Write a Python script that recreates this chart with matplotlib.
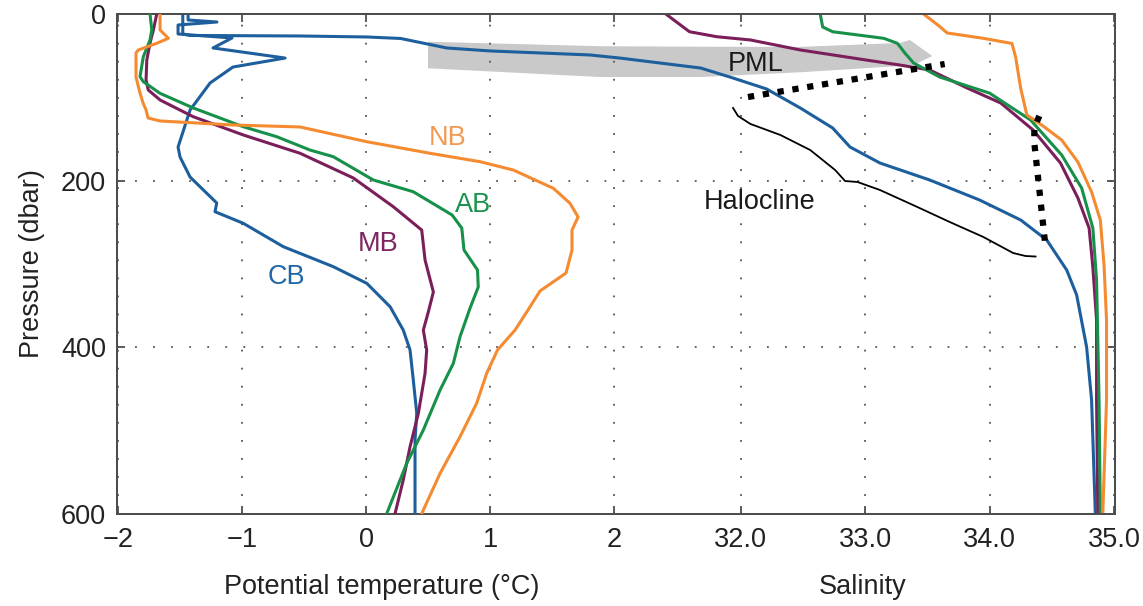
import numpy as np
import matplotlib

matplotlib.use("Agg")
import matplotlib.pyplot as plt
from matplotlib.ticker import FormatStrFormatter

plt.rcParams["font.family"] = ["Liberation Sans", "DejaVu Sans"]

# ------------------------------------------------------------
# potential temperature profiles (degC) vs pressure (dbar)
# ------------------------------------------------------------
cb_temp_p = [0, 7.2, 9.6, 13.2, 24.0, 28.8, 40.8, 52.9, 63.7, 82.9, 115.3, 159.8, 171.8,
             195.8, 227.0, 237.5, 251.4, 279.5, 303.5, 323.5, 351.6, 379.6, 403.6, 439.6,
             479.6, 511.7, 559.8, 600]
cb_temp = [-1.435, -1.435, -1.202, -1.516, -1.516, -1.081, -1.234, -0.653, -1.073, -1.258,
           -1.419, -1.516, -1.50, -1.419, -1.204, -1.218, -0.99, -0.667, -0.264, 0.006,
           0.194, 0.30, 0.355, 0.381, 0.409, 0.395, 0.395, 0.395]

nb_temp_p = [0, 19.2, 29.2, 35.2, 43.2, 46.8, 75.7, 94.9, 106.9, 115.3, 124.9, 128.5, 133.3,
             135.7, 153.4, 167.3, 177.4, 187.4, 209.4, 227.4, 243.8, 259.5, 283.5, 311.1,
             332.7, 355.6, 379.6, 403.6, 431.6, 467.6, 507.7, 551.8, 600]
nb_temp = [-1.661, -1.661, -1.594, -1.688, -1.836, -1.855, -1.855, -1.823, -1.798, -1.774,
           -1.758, -1.661, -1.073, -0.532, 0.006, 0.516, 0.919, 1.188, 1.511, 1.645, 1.71,
           1.661, 1.661, 1.613, 1.403, 1.306, 1.202, 1.06, 0.973, 0.892, 0.758, 0.597, 0.449]

mb_temp_p = [0, 19.2, 34.8, 55.3, 79.3, 91.3, 103.3, 123.4, 145.3, 167.3, 197.0, 231.5,
             259.5, 295.5, 333.9, 359.2, 379.6, 403.6, 431.6, 479.6, 519.7, 559.8, 600]
mb_temp = [-1.688, -1.715, -1.742, -1.768, -1.774, -1.756, -1.661, -1.393, -0.99, -0.532,
           -0.102, 0.22, 0.449, 0.476, 0.543, 0.50, 0.462, 0.489, 0.476, 0.422, 0.355,
           0.30, 0.234]

ab_temp_p = [0, 19.2, 31.2, 51.3, 75.3, 81.3, 95.3, 112.9, 135.4, 147.4, 163.4, 171.4,
             199.4, 213.5, 241.4, 257.1, 283.5, 307.5, 327.9, 353.2, 387.6, 419.6, 451.7,
             499.7, 539.7, 600]
ab_temp = [-1.742, -1.728, -1.742, -1.796, -1.823, -1.796, -1.661, -1.393, -0.99, -0.72,
           -0.452, -0.264, 0.059, 0.381, 0.694, 0.772, 0.79, 0.899, 0.905, 0.839, 0.758,
           0.704, 0.597, 0.462, 0.328, 0.167]

# ------------------------------------------------------------
# salinity profiles vs pressure (dbar)
# ------------------------------------------------------------
cb_sal_p = [0, 24.0, 25.8, 26.4, 27.6, 29.4, 40.8, 44.4, 49.2, 52.9, 64.9, 76.9, 90.1,
            112.9, 136.9, 159.8, 179.0, 199.4, 223.4, 247.4, 271.5, 307.5, 337.5, 400.0,
            463.7, 600]
cb_sal = [27.52, 27.52, 27.58, 28.46, 29.00, 29.27, 29.64, 29.99, 30.79, 31.03, 31.68,
          31.94, 32.21, 32.48, 32.74, 32.88, 33.12, 33.52, 33.92, 34.25, 34.46, 34.62,
          34.70, 34.78, 34.82, 34.85]

nb_sal_p = [0, 9.2, 15.0, 22.8, 29.2, 35.4, 51.7, 88.9, 121.3, 134.5, 151.4, 177.8, 213.8,
            247.4, 301.5, 367.6, 463.7, 600]
nb_sal = [33.47, 33.55, 33.60, 33.66, 33.95, 34.18, 34.21, 34.25, 34.30, 34.43, 34.58,
          34.71, 34.82, 34.89, 34.92, 34.94, 34.94, 34.91]

mb_sal_p = [0, 21.3, 27.3, 31.2, 43.2, 55.3, 61.3, 67.3, 88.9, 106.9, 139.3, 179.0, 221.0,
            257.1, 303.9, 367.6, 463.7, 600]
mb_sal = [31.40, 31.59, 31.81, 32.08, 32.48, 33.01, 33.28, 33.52, 33.82, 34.09, 34.35,
          34.57, 34.71, 34.80, 34.83, 34.86, 34.86, 34.87]

ab_sal_p = [0, 15.6, 21.3, 29.2, 35.2, 46.8, 58.9, 75.7, 95.0, 127.3, 169.4, 209.0, 257.1,
            319.5, 463.7, 600]
ab_sal = [32.64, 32.66, 32.74, 33.15, 33.26, 33.32, 33.39, 33.60, 34.00, 34.33, 34.58,
          34.74, 34.83, 34.86, 34.88, 34.89]

# polar mixed layer band and layer-base markers (salinity, pressure)
pml_band_s = [29.49, 30.87, 31.68, 32.48, 33.28, 33.36, 33.54, 33.39, 33.28, 32.48, 31.68,
              30.87, 29.49]
pml_band_p = [33.3, 38.7, 39.3, 39.5, 34.8, 31.2, 50.5, 61.3, 62.5, 70.0, 75.7, 75.7, 65.2]

pml_base_s = [32.06, 33.64]
pml_base_p = [99.7, 60.1]

halo_base_s = [34.40, 34.36, 34.36, 34.45]
halo_base_p = [122.5, 136.9, 155.0, 279.9]

brace_s = [31.94, 31.98, 32.08, 32.32, 32.56, 32.76, 32.84, 32.94, 33.12, 33.42, 33.68,
           33.95, 34.19, 34.29, 34.37]
brace_p = [112.9, 122.5, 132.1, 145.3, 163.4, 187.4, 200.6, 201.8, 211.4, 231.8, 249.8,
           267.8, 287.1, 290.7, 291.3]

basins = ["CB", "MB", "AB", "NB"]
colors = {"CB": "#1d5f9c", "MB": "#7b1f5b", "AB": "#17904a", "NB": "#f58b30"}
text_colors = {"CB": "#1f66a6", "MB": "#7d2560", "AB": "#1a944c", "NB": "#f29a52"}

temps = {"CB": (cb_temp, cb_temp_p), "MB": (mb_temp, mb_temp_p),
         "AB": (ab_temp, ab_temp_p), "NB": (nb_temp, nb_temp_p)}
sals = {"CB": (cb_sal, cb_sal_p), "MB": (mb_sal, mb_sal_p),
        "AB": (ab_sal, ab_sal_p), "NB": (nb_sal, nb_sal_p)}

# ------------------------------------------------------------
# one box, two x scales: salinity (base axes) and temperature (twin)
# ------------------------------------------------------------
fig = plt.figure(figsize=(11.43, 6.06), dpi=100)
ax_sal = fig.add_axes([0.1024, 0.1526, 0.8731, 0.8243])
ax_tmp = ax_sal.twiny()

SPINE = "#4d4d4d"
GRID = dict(color="#555555", linestyle=(0, (1, 9)), linewidth=1.3)
FS = 19.5

ax_sal.fill(pml_band_s, pml_band_p, color="#c9c9c9", lw=0, zorder=1)

for b in basins:
    s, p = sals[b]
    ax_sal.plot(s, p, color=colors[b], lw=2.2, zorder=3)
    t, p = temps[b]
    ax_tmp.plot(t, p, color=colors[b], lw=2.2, zorder=3)

ax_sal.plot(pml_base_s, pml_base_p, color="k", lw=4.5, ls=(0, (1, 1.4)), zorder=4)
ax_sal.plot(halo_base_s, halo_base_p, color="k", lw=4.5, ls=(0, (1, 1.4)), zorder=4)
ax_sal.plot(brace_s, brace_p, color="k", lw=1.3, zorder=4)

ax_sal.text(32.12, 60, "PML", fontsize=FS, color="#1a1a1a", ha="center", va="center", zorder=5)
ax_sal.text(32.15, 226, "Halocline", fontsize=FS, color="#1a1a1a", ha="center", va="center")

ax_tmp.text(0.66, 149, "NB", fontsize=FS, color=text_colors["NB"], ha="center", va="center")
ax_tmp.text(0.86, 229, "AB", fontsize=FS, color=text_colors["AB"], ha="center", va="center")
ax_tmp.text(0.10, 276, "MB", fontsize=FS, color=text_colors["MB"], ha="center", va="center")
ax_tmp.text(-0.64, 316, "CB", fontsize=FS, color=text_colors["CB"], ha="center", va="center")

ax_sal.set_xlim(26.992, 35.008)
ax_tmp.set_xlim(-2.008, 6.04)
ax_sal.set_ylim(600, 0)

ax_sal.set_xticks([32, 33, 34, 35])
ax_sal.xaxis.set_major_formatter(FormatStrFormatter("%.1f"))
ax_tmp.set_xticks([-2, -1, 0, 1, 2])
ax_sal.set_yticks([0, 200, 400, 600])

ax_sal.grid(True, **GRID)
ax_tmp.grid(True, axis="x", **GRID)
ax_sal.set_axisbelow(True)

for ax in (ax_sal, ax_tmp):
    ax.tick_params(direction="in", length=6, width=1.3, color=SPINE,
                   labelsize=FS, labelcolor="#222222", pad=10)
    ax.tick_params(axis="x", top=True, bottom=True, labelbottom=True, labeltop=False)
    for sp in ax.spines.values():
        sp.set_color(SPINE)
        sp.set_linewidth(1.4)
ax_sal.tick_params(axis="y", left=True, right=True, pad=8)

ax_tmp.set_xlabel("Potential temperature (\u00b0C)", fontsize=FS, color="#222222")
ax_tmp.xaxis.set_label_position("bottom")
ax_tmp.xaxis.set_label_coords(0.2655, -0.122)
ax_sal.set_xlabel("Salinity", fontsize=FS, color="#222222")
ax_sal.xaxis.set_label_coords(0.7475, -0.122)
ax_sal.set_ylabel("Pressure (dbar)", fontsize=FS, color="#222222")
ax_sal.yaxis.set_label_coords(-0.072, 0.5)

fig.savefig("out.png", dpi=100)
